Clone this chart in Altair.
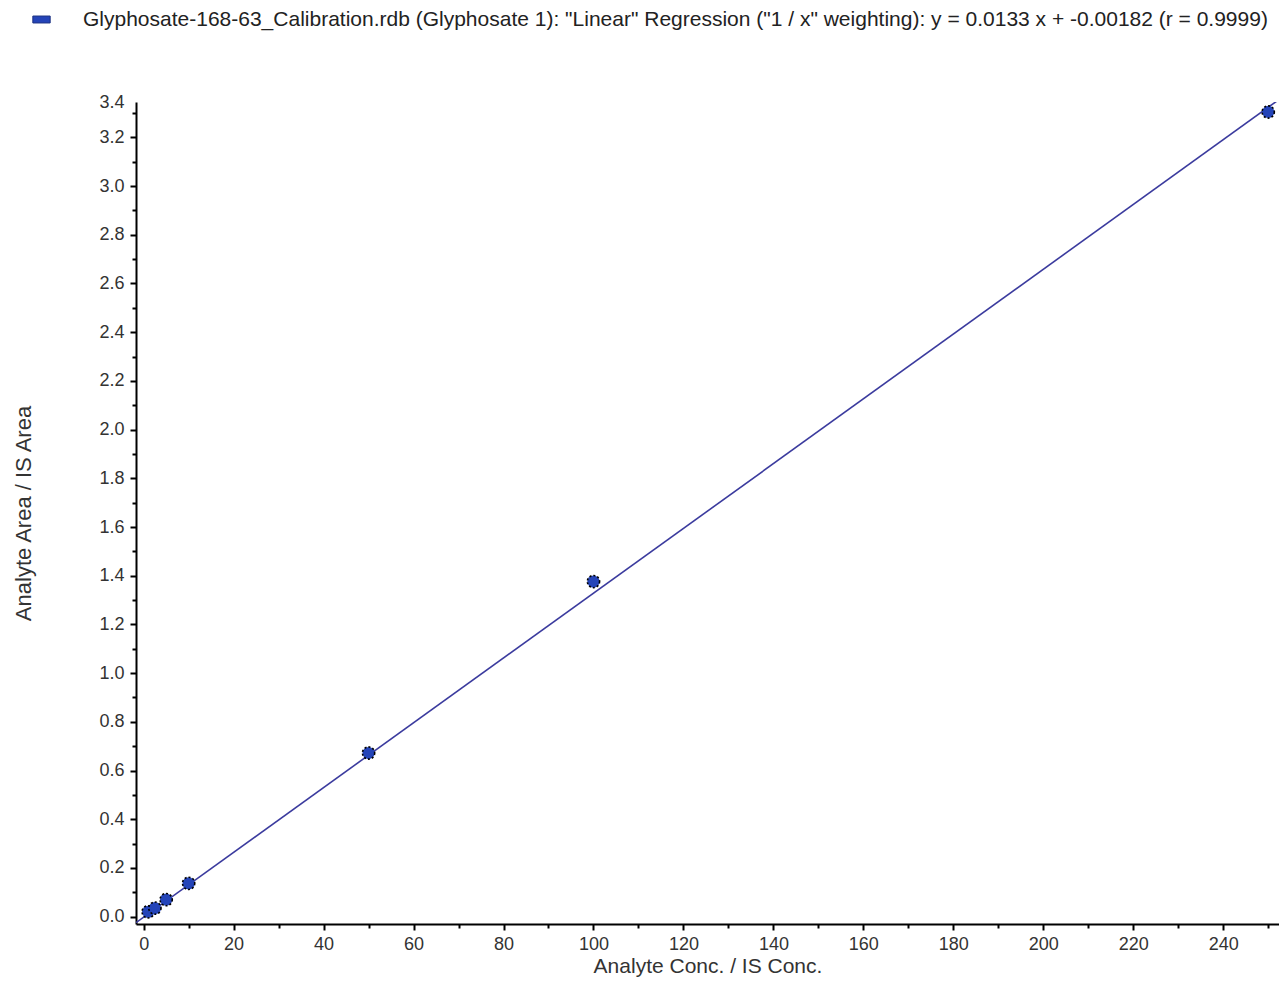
import altair as alt
import pandas as pd

# Calibration points
conc = [1, 2.5, 5, 10, 50, 100, 250]
ratio = [0.02, 0.035, 0.07, 0.137, 0.672, 1.376, 3.304]
series_name = 'Glyphosate-168-63_Calibration.rdb (Glyphosate 1): "Linear" Regression ("1 / x" weighting): y = 0.0133 x + -0.00182 (r = 0.9999)'

# Regression parameters (from the legend text)
slope = 0.0133
intercept = -0.00182

x_domain = [-1.7, 252.4]
y_domain = [-0.03, 3.345]

x_major = list(range(0, 241, 20))
x_minor = list(range(10, 251, 20))
y_major = [0.0, 0.2, 0.4, 0.6, 0.8, 1.0, 1.2, 1.4, 1.6, 1.8, 2.0, 2.2, 2.4, 2.6, 2.8, 3.0, 3.2, 3.345]
y_minor = [0.1, 0.3, 0.5, 0.7, 0.9, 1.1, 1.3, 1.5, 1.7, 1.9, 2.1, 2.3, 2.5, 2.7, 2.9, 3.1, 3.3]

points = pd.DataFrame({"conc": conc, "ratio": ratio, "series": [series_name] * len(conc)})
line_df = pd.DataFrame({"conc": x_domain})
line_df["ratio"] = slope * line_df["conc"] + intercept

FONT = "Liberation Sans"
LINE_COLOR = "#3b3b9e"
POINT_COLOR = "#2444b8"

xs = alt.Scale(domain=x_domain, nice=False, zero=False)
ys = alt.Scale(domain=y_domain, nice=False, zero=False)

major_x_axis = alt.Axis(
    values=x_major, title="Analyte Conc. / IS Conc.", orient="bottom",
    grid=False, domainColor="black", domainWidth=2, tickColor="black", tickWidth=2,
    tickSize=6, labelFont=FONT, labelFontSize=18, labelColor="#333333", labelPadding=5,
    titleFont=FONT, titleFontSize=21, titleFontWeight="normal", titleColor="#333333",
    titlePadding=2, labelFlush=False,
)
major_y_axis = alt.Axis(
    values=y_major, title="Analyte Area / IS Area", orient="left",
    grid=False, domainColor="black", domainWidth=2, tickColor="black", tickWidth=2,
    tickSize=6, labelFont=FONT, labelFontSize=18, labelColor="#333333", labelPadding=6,
    labelExpr="datum.value > 3.3 ? '3.4' : format(datum.value, '.1f')",
    tickOpacity={"condition": {"test": "datum.value > 3.3", "value": 0}, "value": 1},
    titleFont=FONT, titleFontSize=22, titleFontWeight="normal", titleColor="#333333",
    titlePadding=63, labelFlush=False,
)
minor_x_axis = alt.Axis(
    values=x_minor, title=None, orient="bottom", labels=False, domain=False,
    grid=False, tickColor="black", tickWidth=2, tickSize=4,
)
minor_y_axis = alt.Axis(
    values=y_minor, title=None, orient="left", labels=False, domain=False,
    grid=False, tickColor="black", tickWidth=2, tickSize=4,
)

line = alt.Chart(line_df).mark_line(color=LINE_COLOR, strokeWidth=1.6, clip=True).encode(
    x=alt.X("conc:Q", scale=xs, axis=major_x_axis),
    y=alt.Y("ratio:Q", scale=ys, axis=major_y_axis),
)

pts = alt.Chart(points).mark_point(
    filled=True, size=150, opacity=1, stroke="black", strokeWidth=1.6, strokeDash=[2, 2]
).encode(
    x=alt.X("conc:Q", scale=xs, axis=minor_x_axis),
    y=alt.Y("ratio:Q", scale=ys, axis=minor_y_axis),
    fill=alt.Fill(
        "series:N",
        scale=alt.Scale(range=[POINT_COLOR]),
        legend=alt.Legend(
            title=None, orient="none", legendX=-105, legendY=-93,
            symbolType="M-1,-0.4H1V0.4H-1Z", symbolSize=300, symbolFillColor=POINT_COLOR,
            symbolStrokeColor="#1a2f80", symbolStrokeWidth=1,
            labelFont=FONT, labelFontSize=21, labelColor="#222222", labelLimit=2000,
            labelOffset=31,
        ),
    ),
)

chart = (
    alt.layer(line, pts)
    .resolve_axis(x="independent", y="independent")
    .properties(
        width=1143, height=822,
        autosize=alt.AutoSizeParams(type="none"),
        padding={"left": 128, "top": 94, "right": 0, "bottom": 58},
        background="white",
    )
    .configure_view(stroke=None)
)

chart.save("out.html", embed_options={"renderer": "svg", "actions": False})
